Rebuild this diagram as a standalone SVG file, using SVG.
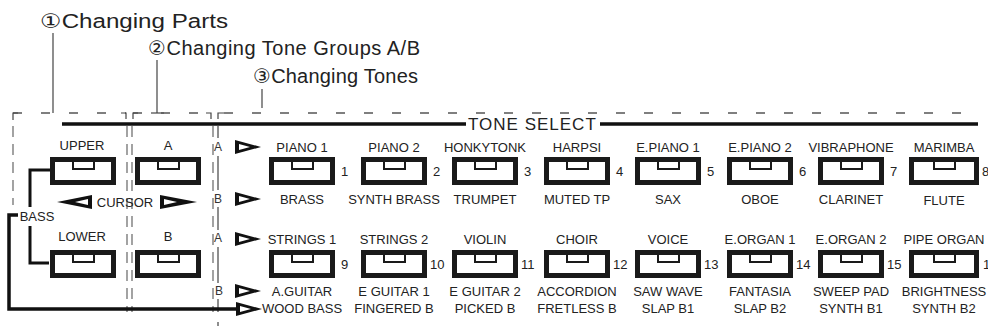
<svg xmlns="http://www.w3.org/2000/svg" width="988" height="333" viewBox="0 0 988 333">
<style>
.kb{fill:#fff;stroke:#1a1a1a;stroke-width:5}
.kn{fill:#fff;stroke:#1a1a1a;stroke-width:2}
.lbl{font-family:"Liberation Sans",Arial,sans-serif;font-size:13px;fill:#222;text-anchor:middle}
.num{font-family:"Liberation Sans",Arial,sans-serif;font-size:13px;fill:#222}
.hdr{font-family:"Liberation Sans","DejaVu Sans",sans-serif;font-size:20px;fill:#222}
.ts{font-family:"Liberation Sans",Arial,sans-serif;font-size:17px;fill:#222;letter-spacing:1px}
.ab{font-family:"Liberation Sans",Arial,sans-serif;font-size:12px;fill:#333;text-anchor:middle}
.hd{fill:none;stroke:#555;stroke-width:1.3;stroke-dasharray:9 19}
.vd{fill:none;stroke:#666;stroke-width:1.2;stroke-dasharray:11 7}
.thin{fill:none;stroke:#444;stroke-width:1.2}
.thick{fill:none;stroke:#111;stroke-width:3.5}
.br{fill:none;stroke:#111;stroke-width:3}
</style>
<defs>
<g id="key"><rect x="2.5" y="2.5" width="61" height="23" class="kb"/><rect x="23" y="4" width="21" height="8" class="kn"/></g>
<g id="keyw"><rect x="2.5" y="2.5" width="65" height="23" class="kb"/><rect x="25" y="4" width="21" height="8" class="kn"/></g>
<g id="tri"><polygon points="0,-7 26,0 0,7" fill="#111"/><polygon points="4,-3 15,0 4,3" fill="#fff"/></g>
<g id="tril"><polygon points="0,-7 -35,0 0,7" fill="#111"/><polygon points="-4,-3 -17,0 -4,3" fill="#fff"/></g>
<g id="trir"><polygon points="0,-7 37,0 0,7" fill="#111"/><polygon points="4,-3 17,0 4,3" fill="#fff"/></g>
</defs>

<g id="headers">
<text class="hdr" x="40" y="28" textLength="188" lengthAdjust="spacingAndGlyphs">①Changing Parts</text>
<text class="hdr" x="148" y="55" textLength="272" lengthAdjust="spacing">②Changing Tone Groups A/B</text>
<text class="hdr" x="253" y="83" textLength="165" lengthAdjust="spacing">③Changing Tones</text>
</g>

<g id="connectors">
<line class="thin" x1="53" y1="33" x2="53" y2="113"/>
<line class="thin" x1="157" y1="60" x2="157" y2="113"/>
<line class="thin" x1="151" y1="113" x2="164" y2="113"/>
<line class="thin" x1="262" y1="89" x2="262" y2="108"/>
<path class="hd" d="M13,113 H126"/>
<path class="hd" d="M133,113 H211"/>
<path class="hd" d="M224,113 H978"/>
<path class="thin" d="M13,120 V113 H18 M121,113 H126 V119 M133,119 V113 H138 M206,113 H211 V119 M218,119 V113 H224"/>
<line class="vd" x1="13" y1="126" x2="13" y2="205"/>
<line class="vd" x1="127" y1="126" x2="127" y2="312"/>
<line class="vd" x1="132" y1="126" x2="132" y2="312"/>
<line class="vd" x1="213" y1="126" x2="213" y2="312"/>
<path class="thin" d="M218,126 V138 M218,156 V190 M218,207 V230 M218,247 V283 M218,299 V312 M218,322 V326"/>
<path class="thick" d="M62,124 H466 M600,124 H978"/>
<path class="br" d="M50,170 H30 V207 M30,226 V263 H49"/>
<path class="thick" d="M18,215 H9 V309 H236"/>
<use href="#tri" x="236" y="309"/>
</g>

<g id="tone-select"><text class="ts" x="468" y="130">TONE SELECT</text></g>

<g id="upper"><text class="lbl" x="82" y="150">UPPER</text><use href="#key" x="50" y="157"/></g>
<g id="lower"><text class="lbl" x="82" y="241">LOWER</text><use href="#key" x="50" y="250"/></g>
<g id="group-a"><text class="lbl" x="168" y="150">A</text><use href="#key" x="135" y="157"/></g>
<g id="group-b"><text class="lbl" x="168" y="241">B</text><use href="#key" x="135" y="250"/></g>
<g id="cursor"><use href="#tril" x="92" y="202"/><text class="lbl" x="125" y="207">CURSOR</text><use href="#trir" x="160" y="202"/></g>
<g id="bass"><text class="lbl" x="37" y="221">BASS</text></g>

<g id="row-markers">
<text class="ab" x="218" y="151">A</text><use href="#tri" x="235" y="147"/>
<text class="ab" x="218" y="203">B</text><use href="#tri" x="235" y="199"/>
<text class="ab" x="218" y="242">A</text><use href="#tri" x="235" y="239"/>
<text class="ab" x="219" y="295">B</text><use href="#tri" x="235" y="291"/>
</g>

<g id="tone-1"><text class="lbl" x="302" y="152">PIANO 1</text><use href="#key" x="269" y="157"/><text class="num" x="341" y="176">1</text><text class="lbl" x="302" y="204">BRASS</text></g>
<g id="tone-2"><text class="lbl" x="394" y="152">PIANO 2</text><use href="#key" x="361" y="157"/><text class="num" x="433" y="176">2</text><text class="lbl" x="394" y="204">SYNTH BRASS</text></g>
<g id="tone-3"><text class="lbl" x="485" y="152">HONKYTONK</text><use href="#key" x="452" y="157"/><text class="num" x="524" y="176">3</text><text class="lbl" x="485" y="204">TRUMPET</text></g>
<g id="tone-4"><text class="lbl" x="577" y="152">HARPSI</text><use href="#key" x="544" y="157"/><text class="num" x="616" y="176">4</text><text class="lbl" x="577" y="204">MUTED TP</text></g>
<g id="tone-5"><text class="lbl" x="668" y="152">E.PIANO 1</text><use href="#key" x="635" y="157"/><text class="num" x="707" y="176">5</text><text class="lbl" x="668" y="204">SAX</text></g>
<g id="tone-6"><text class="lbl" x="760" y="152">E.PIANO 2</text><use href="#key" x="727" y="157"/><text class="num" x="799" y="176">6</text><text class="lbl" x="760" y="204">OBOE</text></g>
<g id="tone-7"><text class="lbl" x="851" y="152">VIBRAPHONE</text><use href="#key" x="818" y="157"/><text class="num" x="890" y="176">7</text><text class="lbl" x="851" y="204">CLARINET</text></g>
<g id="tone-8"><text class="lbl" x="944" y="152">MARIMBA</text><use href="#keyw" x="909" y="157"/><text class="num" x="982" y="176">8</text><text class="lbl" x="944" y="205">FLUTE</text></g>

<g id="tone-9"><text class="lbl" x="302" y="244">STRINGS 1</text><use href="#key" x="269" y="250"/><text class="num" x="341" y="269">9</text><text class="lbl" x="302" y="296">A.GUITAR</text><text class="lbl" x="302" y="313">WOOD BASS</text></g>
<g id="tone-10"><text class="lbl" x="394" y="244">STRINGS 2</text><use href="#key" x="361" y="250"/><text class="num" x="430" y="269">10</text><text class="lbl" x="394" y="296">E GUITAR 1</text><text class="lbl" x="394" y="313">FINGERED B</text></g>
<g id="tone-11"><text class="lbl" x="485" y="244">VIOLIN</text><use href="#key" x="452" y="250"/><text class="num" x="521" y="269">11</text><text class="lbl" x="485" y="296">E GUITAR 2</text><text class="lbl" x="485" y="313">PICKED B</text></g>
<g id="tone-12"><text class="lbl" x="577" y="244">CHOIR</text><use href="#key" x="544" y="250"/><text class="num" x="613" y="269">12</text><text class="lbl" x="577" y="296">ACCORDION</text><text class="lbl" x="577" y="313">FRETLESS B</text></g>
<g id="tone-13"><text class="lbl" x="668" y="244">VOICE</text><use href="#key" x="635" y="250"/><text class="num" x="704" y="269">13</text><text class="lbl" x="668" y="296">SAW WAVE</text><text class="lbl" x="668" y="313">SLAP B1</text></g>
<g id="tone-14"><text class="lbl" x="760" y="244">E.ORGAN 1</text><use href="#key" x="727" y="250"/><text class="num" x="796" y="269">14</text><text class="lbl" x="760" y="296">FANTASIA</text><text class="lbl" x="760" y="313">SLAP B2</text></g>
<g id="tone-15"><text class="lbl" x="851" y="244">E.ORGAN 2</text><use href="#key" x="818" y="250"/><text class="num" x="887" y="269">15</text><text class="lbl" x="851" y="296">SWEEP PAD</text><text class="lbl" x="851" y="313">SYNTH B1</text></g>
<g id="tone-16"><text class="lbl" x="944" y="244">PIPE ORGAN</text><use href="#keyw" x="909" y="250"/><text class="num" x="983" y="269">16</text><text class="lbl" x="944" y="296">BRIGHTNESS</text><text class="lbl" x="944" y="313">SYNTH B2</text></g>
</svg>
